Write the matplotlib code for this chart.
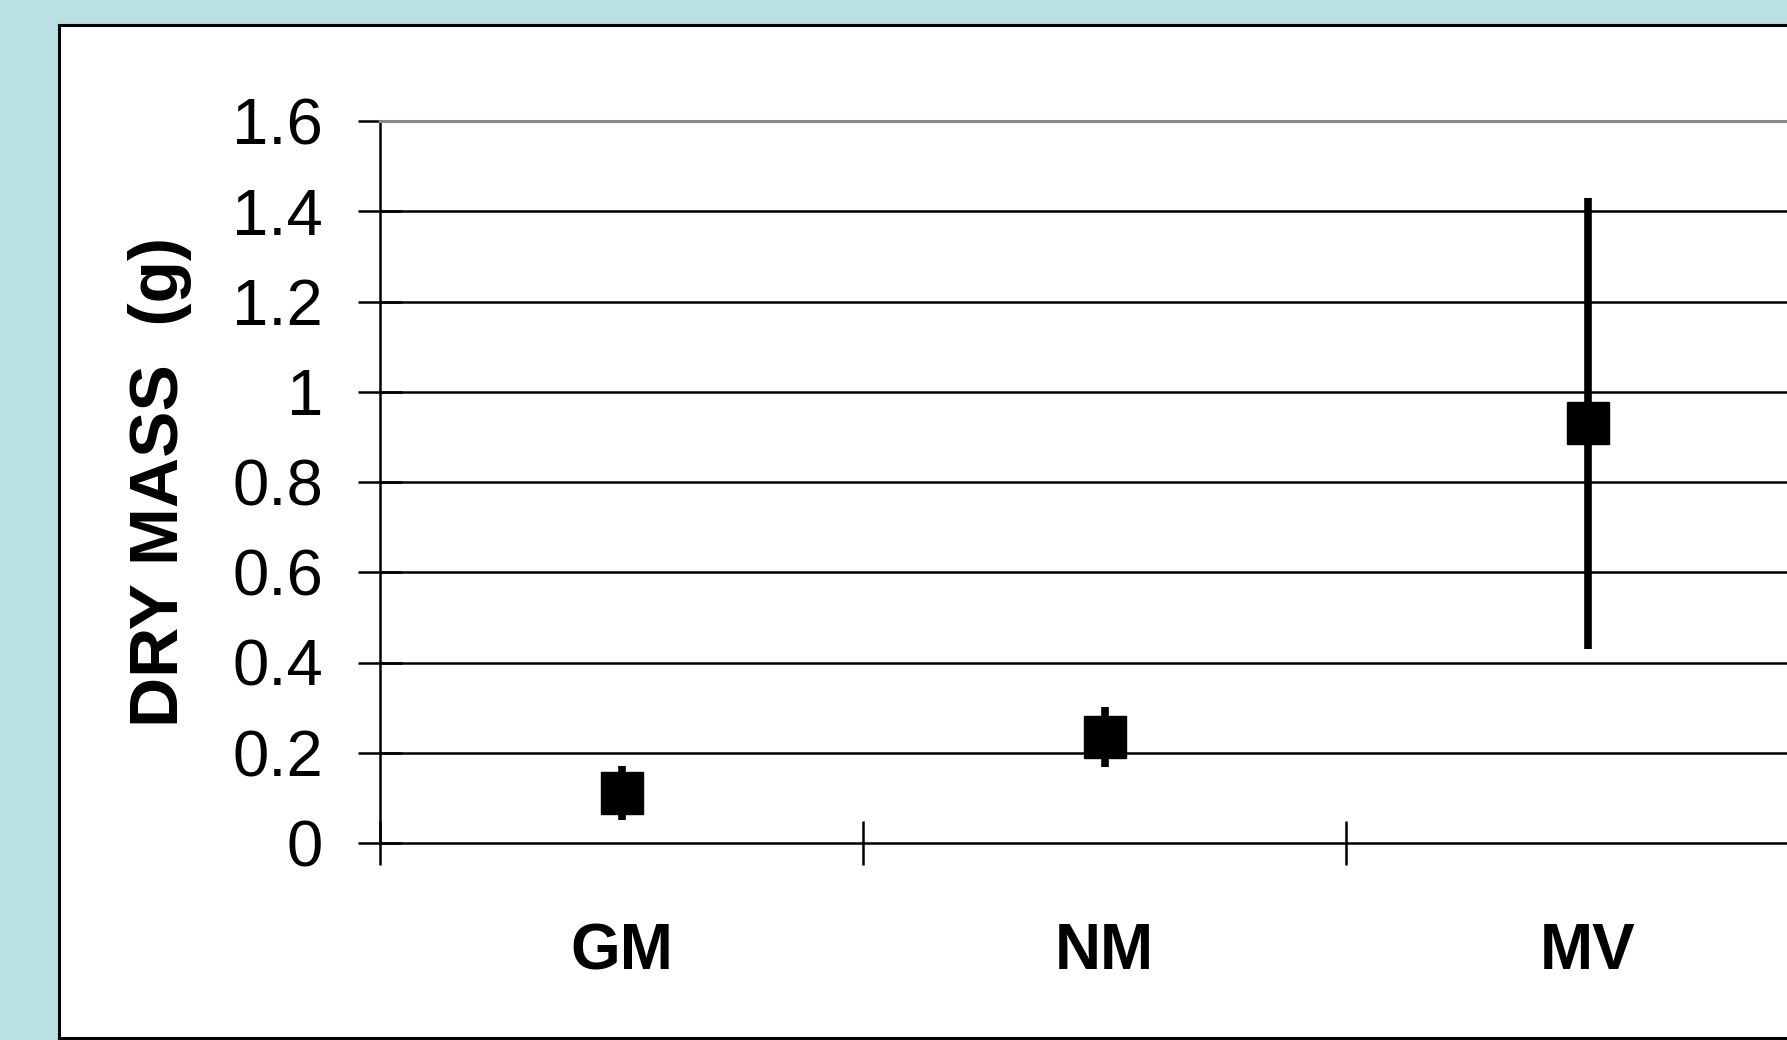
import matplotlib
matplotlib.use("Agg")
import matplotlib.pyplot as plt
from matplotlib.patches import Rectangle

# values
groups = ['GM', 'NM', 'MV']
dry_mass = [0.11, 0.235, 0.93]
err = [0.06, 0.067, 0.50]
yticks = [0, 0.2, 0.4, 0.6, 0.8, 1.0, 1.2, 1.4, 1.6]
ytick_labels = ['0', '0.2', '0.4', '0.6', '0.8', '1', '1.2', '1.4', '1.6']

plt.rcParams['font.family'] = ['Liberation Sans', 'DejaVu Sans']

W, H = 1787, 1040
fig = plt.figure(figsize=(W / 100, H / 100), dpi=100)
fig.patch.set_facecolor('#b9e0e2')

# white panel with black border, running off the right edge
fig.patches.append(Rectangle((59 / W, 2 / H), 1.2, (1038 - 25) / H,
                             transform=fig.transFigure, facecolor='white',
                             edgecolor='black', linewidth=2.2, zorder=-10))

ax = fig.add_axes([380 / W, 1 - 843 / H, (1829 - 380) / W, (843 - 121) / H])
ax.set_facecolor('none')

x = [i + 0.5 for i in range(len(groups))]
ax.errorbar(x, dry_mass, yerr=err, fmt='s', color='black', ms=30,
            elinewidth=5.5, capsize=0, zorder=3)

ax.set_xlim(0, 3)
ax.set_ylim(0, 1.6)

ax.set_yticks(yticks)
ax.set_yticklabels(ytick_labels, fontsize=47)
ax.tick_params(axis='y', direction='inout', length=32, width=1.8, pad=25)
for v in yticks[1:-1]:
    ax.axhline(v, color='black', lw=1.8, zorder=1)

ax.set_xticks(x)
ax.set_xticklabels(groups, fontsize=46, fontweight='bold')
ax.tick_params(axis='x', which='major', length=0, pad=57)
ax.set_xticks([0, 1, 2, 3], minor=True)
ax.tick_params(axis='x', which='minor', direction='inout', length=32, width=1.8)

ax.spines['left'].set_linewidth(1.8)
ax.spines['bottom'].set_linewidth(1.8)
ax.spines['top'].set_color('#888888')
ax.spines['top'].set_linewidth(2.2)
ax.spines['right'].set_visible(False)

ax.set_ylabel('DRY MASS  (g)', fontsize=50, fontweight='bold', labelpad=29)

fig.savefig('out.png', dpi=100, facecolor=fig.get_facecolor())
